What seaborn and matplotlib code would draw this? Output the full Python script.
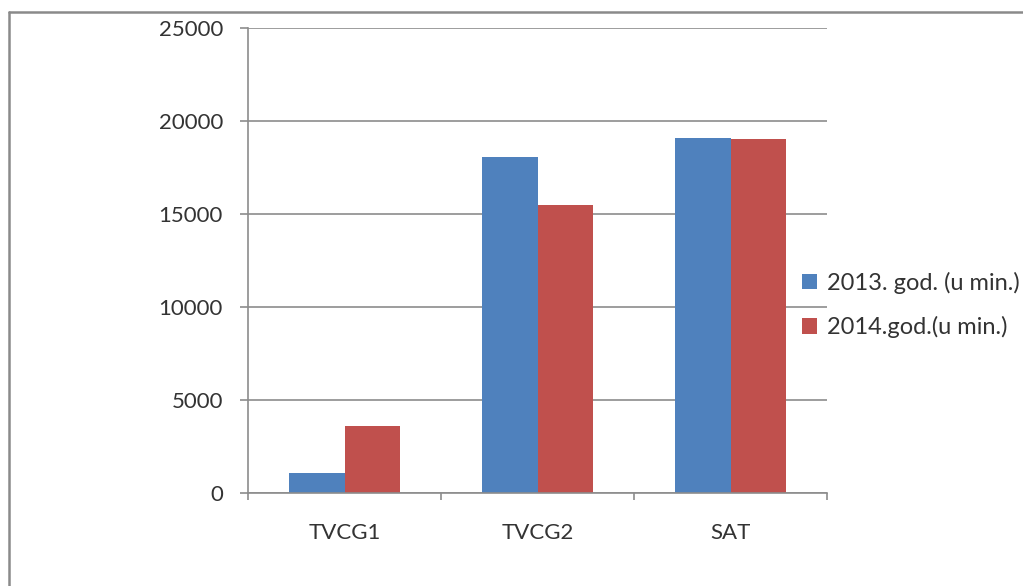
import matplotlib
matplotlib.use("Agg")
import matplotlib.pyplot as plt
from matplotlib.lines import Line2D
import seaborn as sns
import pandas as pd

categories = ["TVCG1", "TVCG2", "SAT"]
series_names = ["2013. god. (u min.)", "2014.god.(u min.)"]
values_2013 = [1050, 18070, 19100]
values_2014 = [3580, 15460, 19030]
y_ticks = [0, 5000, 10000, 15000, 20000, 25000]

df = pd.DataFrame({
    "cat": categories * 2,
    "series": [series_names[0]] * 3 + [series_names[1]] * 3,
    "value": values_2013 + values_2014,
})

sns.set_theme(style="white")
plt.rcParams["font.family"] = ["Lato", "DejaVu Sans"]

text_color = "#333333"
grid_color = "#8c8c8c"

fig = plt.figure(figsize=(10.23, 5.86), dpi=100)
ax = fig.add_axes([248 / 1023, 1 - 492.7 / 586, (827 - 248) / 1023, (492.7 - 28) / 586])

sns.barplot(data=df, x="cat", y="value", hue="series", order=categories,
            hue_order=series_names, palette=["#4F81BD", "#C0504D"],
            width=0.57, gap=0, saturation=1, edgecolor="none", linewidth=0,
            ax=ax, legend=True, errorbar=None)

ax.set_ylim(0, 25000)
ax.set_xlim(-0.5, 2.5)
ax.set_yticks(y_ticks)
ax.set_yticklabels([str(t) for t in y_ticks])
ax.yaxis.grid(True, color=grid_color, linewidth=1.2)
ax.set_axisbelow(True)
ax.set_xlabel("")
ax.set_ylabel("")

for s in ["top", "right"]:
    ax.spines[s].set_visible(False)
for s in ["left", "bottom"]:
    ax.spines[s].set_color(grid_color)
    ax.spines[s].set_linewidth(1.2)

ax.tick_params(axis="y", which="major", direction="out", length=6, width=1.2,
               color=grid_color, pad=12, labelsize=16, labelcolor=text_color, left=True)
ax.tick_params(axis="x", which="major", length=0, pad=22, labelsize=16,
               labelcolor=text_color)
ax.set_xticks([-0.5, 0.5, 1.5, 2.5], minor=True)
ax.tick_params(axis="x", which="minor", direction="out", length=5, width=1.2,
               color=grid_color, bottom=True)

handles, labels = ax.get_legend_handles_labels()
ax.legend_.remove()
leg = fig.legend(handles, labels, loc="center left",
                 bbox_to_anchor=(802 / 1023, 1 - 305 / 586),
                 frameon=False, fontsize=17, handlelength=0.62, handleheight=0.62,
                 handletextpad=0.45, labelspacing=0.95, borderaxespad=0, borderpad=0)
for t in leg.get_texts():
    t.set_color(text_color)

# outer frame (left and top edges visible)
fig.add_artist(Line2D([8.5 / 1023, 8.5 / 1023], [0, 1 - 11.5 / 586],
                      transform=fig.transFigure, color="#8a8a8a", linewidth=1.8))
fig.add_artist(Line2D([8.5 / 1023, 1], [1 - 11.5 / 586, 1 - 11.5 / 586],
                      transform=fig.transFigure, color="#8a8a8a", linewidth=1.8))

fig.savefig("out.png", dpi=100)
